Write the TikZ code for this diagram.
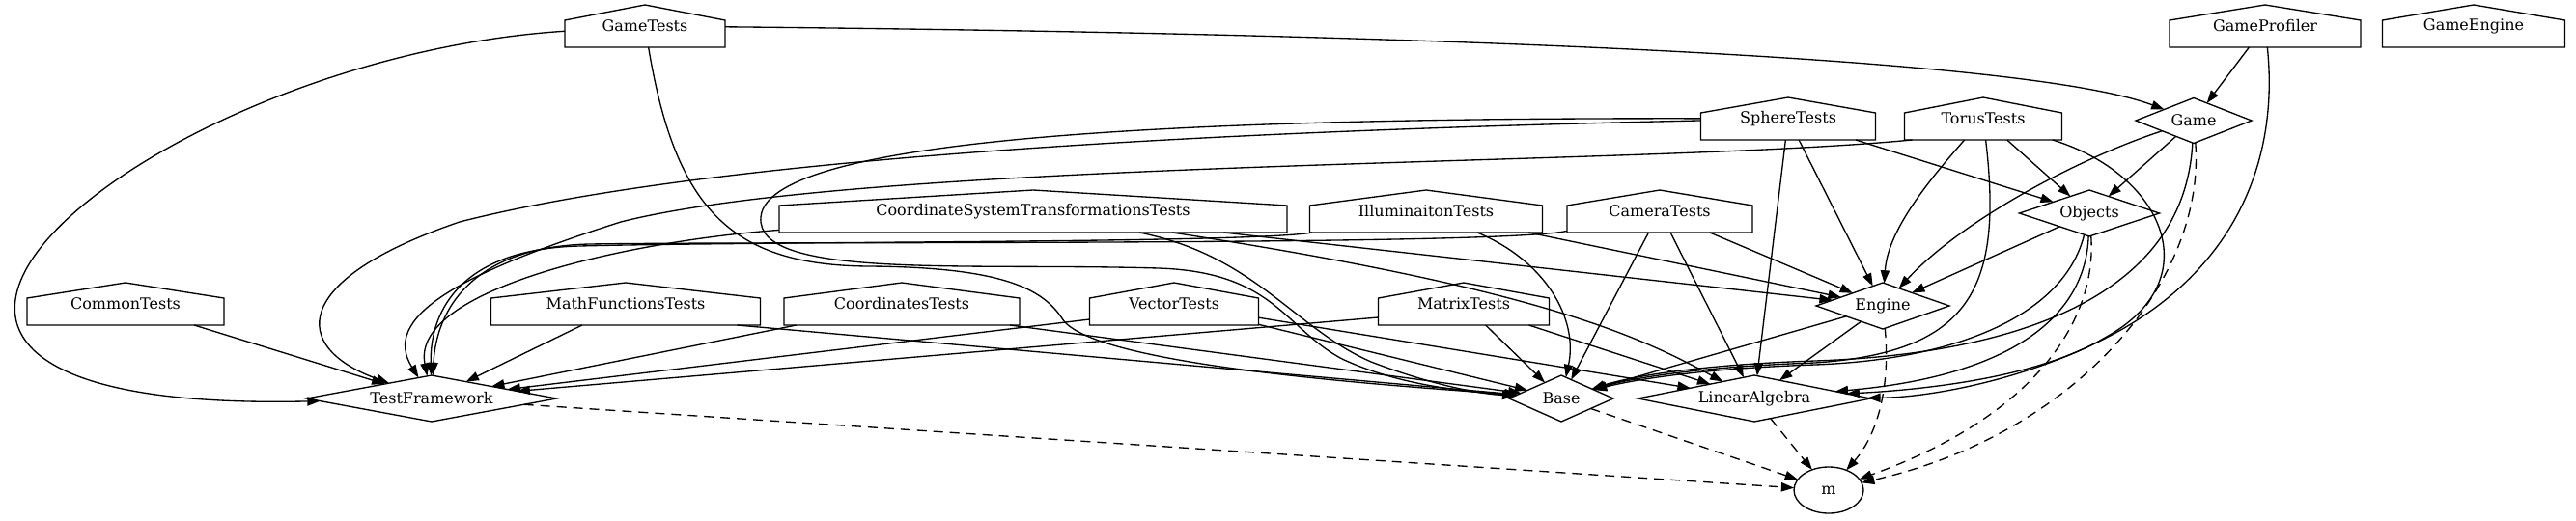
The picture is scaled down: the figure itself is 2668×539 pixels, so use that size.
\documentclass[tikz,border=0pt]{standalone}
\usepackage{fontspec}
\setmainfont{DejaVu Serif}
\usetikzlibrary{shapes.geometric,arrows.meta}

\newcommand\depfont{\fontsize{16}{19}\selectfont}

\tikzset{
  pkg/.style={rectangle, minimum height=44, inner sep=0, outer sep=0, font=\depfont,
    append after command={\pgfextra{\draw[line width=1.33pt]
      ([yshift=-16pt]\tikzlastnode.north west) -- (\tikzlastnode.north)
      -- ([yshift=-16pt]\tikzlastnode.north east) -- (\tikzlastnode.south east)
      -- (\tikzlastnode.south west) -- cycle;}}},
  lib/.style={diamond, draw, line width=1.33pt, minimum height=48, inner sep=0, outer sep=0, font=\depfont},
  dep/.style={line width=1.33pt, -{Triangle[length=13.3pt,width=9.3pt]}},
  weak/.style={dep, dash pattern=on 10pt off 7pt}
}

\begin{document}
\begin{tikzpicture}[x=1pt,y=-1pt]

\fill[white] (0,0) rectangle (2668,539);
\useasboundingbox (0,0) rectangle (2668,539);

	% top row
	\node[pkg, minimum width=166] (gametests) at (668,27) {GameTests};
	\node[pkg, minimum width=198] (gameprofiler) at (2346,27) {GameProfiler};
	\node[pkg, minimum width=189] (gameengine) at (2562,27) {GameEngine};
	% second row
	\node[pkg, minimum width=181] (spheretests) at (1852,123) {SphereTests};
	\node[pkg, minimum width=163] (torustests) at (2054,123) {TorusTests};
	\node[lib, minimum width=120, minimum height=47, shape aspect=2.5] (game) at (2272,125) {Game};
	% third row
	\node[pkg, minimum width=526] (coordsystests) at (1070,219) {CoordinateSystemTransformationsTests};
	\node[pkg, minimum width=241] (illumtests) at (1477,219) {IlluminaitonTests};
	\node[pkg, minimum width=192] (cameratests) at (1719,219) {CameraTests};
	\node[lib, minimum width=145, shape aspect=3] (objects) at (2164,221) {Objects};
	% fourth row
	\node[pkg, minimum width=204] (commontests) at (130,315) {CommonTests};
	\node[pkg, minimum width=279] (mathtests) at (648,315) {MathFunctionsTests};
	\node[pkg, minimum width=244] (coordtests) at (934,315) {CoordinatesTests};
	\node[pkg, minimum width=175] (vectortests) at (1216,315) {VectorTests};
	\node[pkg, minimum width=177] (matrixtests) at (1516,315) {MatrixTests};
	\node[lib, minimum width=138, shape aspect=2.9] (engine) at (1950,317) {Engine};
	% libraries
	\node[lib, minimum width=259, shape aspect=5.4] (testframework) at (447,413) {TestFramework};
	\node[lib, minimum width=108, shape aspect=2.25] (base) at (1617,413) {Base};
	\node[lib, minimum width=241, shape aspect=5] (linalg) at (1817,413) {LinearAlgebra};
	\node[ellipse, draw, line width=1.33pt, minimum width=72, minimum height=48, inner sep=0, outer sep=0, font=\depfont] (libm) at (1894,508) {m};

	%GameTests
	\draw[dep] (gametests) .. controls (1500,35) and (2100,60) .. (game);
	\draw[dep] (gametests) .. controls (150,60) and (-300,430) .. (testframework);
	\draw[dep] (gametests) .. controls (700,220) and (760,275) .. (900,276) .. controls (1040,277) and (1080,300) .. (1100,330) .. controls (1130,380) and (1450,400) .. (base);
	%GameProfiler
	\draw[dep] (gameprofiler) -- (game);
	\draw[dep] (gameprofiler) .. controls (2360,160) and (2320,270) .. (2200,340) .. controls (2110,392) and (2000,412) .. (linalg);

	%SphereTests
	\draw[dep] (spheretests) .. controls (1300,135) and (750,160) .. (476,230) .. controls (300,290) and (300,360) .. (testframework);
	\draw[dep] (spheretests) .. controls (1250,122) and (795,140) .. (788,225) .. controls (782,290) and (1000,272) .. (1200,278) .. controls (1320,282) and (1330,340) .. (1390,372) .. controls (1450,400) and (1520,406) .. (base);
	\draw[dep] (spheretests) -- (objects);
	\draw[dep] (spheretests) -- (engine);
	\draw[dep] (spheretests) -- (linalg);
	%TorusTests
	\draw[dep] ([xshift=8pt]torustests.south west) .. controls (1700,172) and (900,165) .. (643,230) .. controls (470,285) and (395,330) .. (testframework);
	\draw[dep] (torustests) .. controls (1995,190) and (1955,240) .. (engine);
	\draw[dep] (torustests) -- (objects);
	\draw[dep] (torustests) .. controls (2075,300) and (2040,365) .. (1880,376) .. controls (1760,380) and (1690,392) .. (base);
	\draw[dep] (torustests) .. controls (2240,180) and (2290,290) .. (2180,350) .. controls (2110,392) and (1990,404) .. (linalg);

	%CoordinateSystemTransformationsTests
	\draw[dep] (coordsystests) .. controls (650,250) and (425,300) .. (testframework);
	\draw[dep] (coordsystests) .. controls (1300,265) and (1340,340) .. (1420,375) .. controls (1480,398) and (1530,408) .. (base);
	\draw[dep] (coordsystests) .. controls (1600,300) and (1700,350) .. (linalg);
	\draw[dep] (coordsystests) -- (engine);
	%IlluminaitonTests
	\draw[dep] (illumtests) .. controls (1300,252) and (800,250) .. (600,255) .. controls (480,258) and (445,320) .. (testframework);
	\draw[dep] (illumtests) .. controls (1600,270) and (1635,330) .. (base);
	\draw[dep] (illumtests) -- (engine);
	%CameraTests
	\draw[dep] (cameratests) .. controls (1550,255) and (800,250) .. (610,253) .. controls (490,256) and (452,320) .. (testframework);
	\draw[dep] (cameratests) -- (base);
	\draw[dep] (cameratests) -- (linalg);
	\draw[dep] (cameratests) -- (engine);

	%Game and Objects
	\draw[dep] (game) -- (objects);
	\draw[dep] (game) .. controls (2150,165) and (2030,230) .. (engine);
	\draw[dep] (game) .. controls (2262,320) and (2060,368) .. (1880,374) .. controls (1760,378) and (1690,390) .. (base);
	\draw[weak] (game) .. controls (2285,290) and (2150,450) .. (libm);
	\draw[dep] (objects) -- (engine);
	\draw[dep] (objects) .. controls (2140,320) and (2040,372) .. (1880,378) .. controls (1760,382) and (1690,394) .. (base);
	\draw[dep] (objects) .. controls (2160,330) and (2080,390) .. (linalg);
	\draw[weak] (objects) .. controls (2172,330) and (2110,430) .. (libm);

	%fourth row
	\draw[dep] (commontests) -- (testframework);
	\draw[dep] (mathtests) -- (testframework);
	\draw[dep] ([xshift=-24pt]mathtests.south east) -- (base);
	\draw[dep] (coordtests) -- (testframework);
	\draw[dep] ([xshift=-10pt]coordtests.south east) -- (base);
	\draw[dep] ([yshift=6pt]vectortests.south west) -- (testframework);
	\draw[dep] (vectortests) -- (base);
	\draw[dep] (vectortests) -- (linalg);
	\draw[dep] ([yshift=8pt]matrixtests.south west) -- (testframework);
	\draw[dep] (matrixtests) -- (base);
	\draw[dep] (matrixtests) -- (linalg);

	%Engine
	\draw[dep] (engine) -- (base);
	\draw[dep] (engine) -- (linalg);
	\draw[weak] (engine) .. controls (1958,400) and (1945,450) .. (libm);

	%links to m
	\draw[weak] (testframework) -- (libm);
	\draw[weak] (base) -- (libm);
	\draw[weak] (linalg) -- (libm);

\end{tikzpicture}
\end{document}
